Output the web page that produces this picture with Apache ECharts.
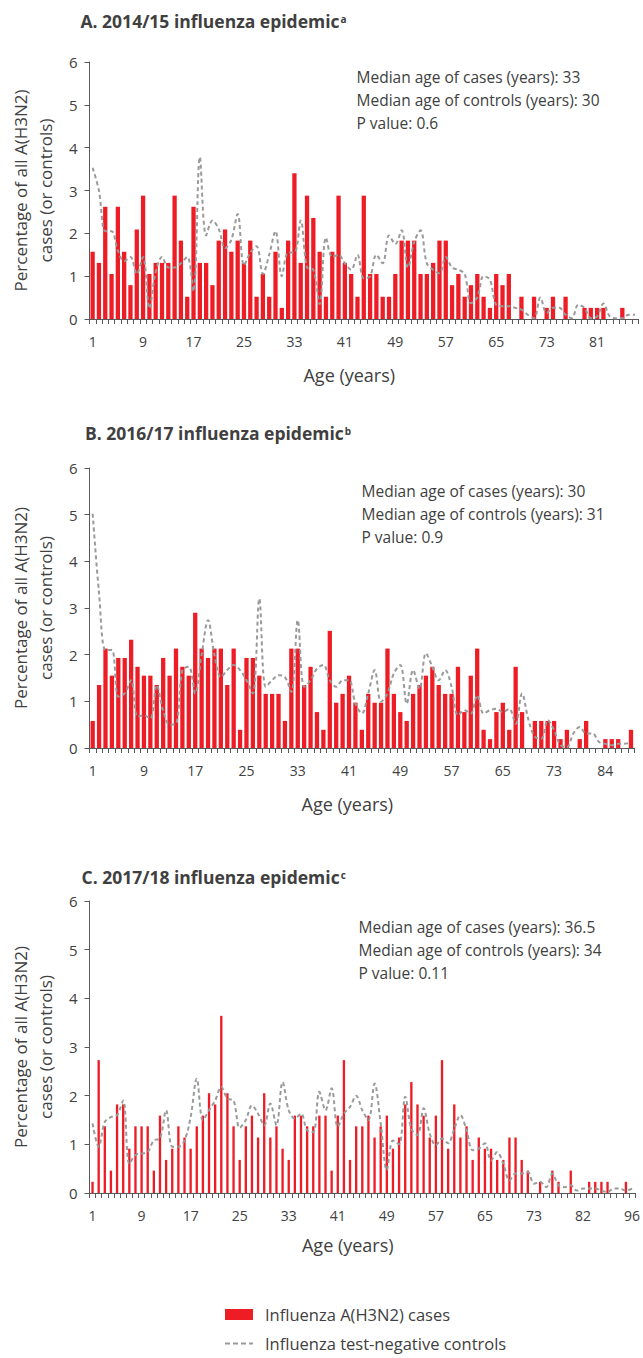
<!DOCTYPE html>
<html>
<head>
<meta charset="utf-8">
<script src="https://cdn.jsdelivr.net/npm/echarts@6/dist/echarts.min.js"></script>
<style>
html,body{margin:0;padding:0;background:#fff;}
#chart{width:643px;height:1358px;}
</style>
</head>
<body>
<div id="chart"></div>
<script>
// ---------- DATA ----------
const agesA = Array.from({length: 87}, (_, i) => String(i + 1));
const casesA = [1.57,1.31,2.62,1.05,2.62,1.57,0.79,2.09,2.88,1.05,
  1.31,1.31,1.31,2.88,1.83,0.52,2.62,1.31,1.31,0.79,
  1.83,2.09,1.57,1.83,1.31,1.83,0.52,1.05,0.52,1.57,
  0.26,1.83,3.40,1.31,2.88,2.36,1.57,0.52,1.57,2.88,
  1.31,1.05,0.52,2.88,1.05,1.05,0.52,0.52,1.05,1.83,
  1.83,1.83,1.05,1.05,1.31,1.83,1.83,0.79,1.05,0.52,
  0.79,1.05,0.52,0.26,1.05,0.79,1.05,0,0.52,0,
  0.52,0,0.26,0.52,0,0.52,0,0,0.26,0.26,
  0.26,0.26,0,0,0.26,0,0];
const controlsA = [3.53,3.0,2.05,2.05,1.6,1.35,1.45,1.05,1.45,0.25,
  1.1,1.45,1.2,1.2,1.3,1.45,0.65,3.78,1.95,2.3,
  2.1,1.65,1.85,2.45,1.25,1.55,1.7,1.05,1.5,2.05,
  1.0,1.55,1.55,2.3,1.2,1.15,0.35,1.9,1.45,1.5,
  1.3,1.15,1.5,0.95,1.0,1.5,1.3,1.95,1.75,2.07,
  1.2,1.8,2.07,1.3,1.15,1.07,1.45,1.2,1.15,1.05,
  0.37,0.5,1.0,0.92,0.33,0.3,0.3,0.26,0.22,0.1,
  0.02,0.5,0.14,0.26,0.26,0.1,0.02,0.33,0.26,0.02,
  0.06,0.36,0.06,0.02,0.02,0.1,0.1];

const agesB = Array.from({length: 73}, (_, i) => String(i + 1))
  .concat(['74','75','76','77','78','80','82','84','85','86','87','89']);
const casesB = [0.58,1.35,2.13,1.55,1.93,1.93,2.32,1.74,1.55,1.55,
  1.35,1.93,1.55,2.13,1.74,1.55,2.90,2.13,1.93,2.13,
  2.13,1.35,2.13,0.39,1.93,1.93,1.55,1.16,1.16,1.16,
  0.58,2.13,2.13,1.35,1.74,0.77,0.39,2.51,0.97,1.16,
  1.55,0.97,0.39,1.16,0.97,0.97,2.13,1.16,0.77,0.58,
  1.16,1.35,1.55,1.74,1.35,1.16,1.16,1.74,0.77,1.55,
  2.13,0.39,0.19,0.77,0.97,0.39,1.74,0.77,0,0.58,
  0.58,0.58,0.58,0.19,0.39,0,0.19,0.58,0,0,
  0.19,0.19,0.19,0,0.39];
const controlsB = [5.02,3.3,2.1,2.1,1.1,1.17,1.45,0.67,0.7,0.63,
  1.35,0.8,0.5,0.52,1.67,1.74,1.17,2.0,2.74,2.0,
  1.52,1.67,1.78,1.67,1.45,1.17,3.2,1.31,1.45,1.56,
  1.52,1.2,2.74,1.31,1.45,1.7,1.78,1.45,1.31,1.45,
  1.45,0.95,0.74,1.17,1.67,0.99,1.17,1.6,1.78,0.95,
  1.67,1.27,2.03,1.74,1.45,1.67,1.31,0.7,0.81,0.74,
  1.13,0.74,0.81,0.84,0.77,0.84,0.52,1.17,0.6,0.24,
  0.2,0.6,0.38,0.06,0.02,0.31,0.45,0.31,0.31,0.13,
  0.09,0.06,0.09,0.09,0.13];

const agesC = Array.from({length: 73}, (_, i) => String(i + 1))
  .concat(['74','75','76','77','78','79','81','82','83','84','85','86','88','90','93','96']);
const casesC = [0.23,2.73,1.37,0.46,1.82,1.82,0.91,1.37,1.37,1.37,
  0.46,1.59,0.68,0.91,1.37,1.14,0.91,1.37,1.59,2.05,
  1.82,3.64,2.05,1.37,0.68,1.37,1.59,1.14,2.05,1.14,
  1.37,0.91,0.68,1.59,1.59,1.37,1.37,1.59,1.59,0.46,
  1.59,2.73,0.68,1.37,1.37,1.59,1.14,1.37,1.59,0.91,
  1.14,1.82,2.28,1.82,1.59,1.14,1.59,2.73,0.91,1.82,
  1.14,1.37,0.68,1.14,0.91,0.91,0.68,0.68,1.14,1.14,
  0.68,0.46,0,0.23,0,0.46,0.23,0,0.46,0,
  0,0.23,0.23,0.23,0.23,0,0,0.23,0];
const controlsC = [1.43,0.95,1.46,1.56,1.6,1.9,0.6,0.78,0.81,0.84,
  1.08,1.12,1.7,0.95,0.95,1.08,1.56,2.35,1.5,1.7,
  1.9,2.18,1.94,1.9,1.34,1.5,1.8,1.63,1.39,1.84,
  1.39,2.28,1.7,1.53,1.63,1.29,1.25,2.08,1.7,2.15,
  1.36,1.63,1.77,2.0,1.7,1.5,2.25,1.43,0.47,1.08,
  1.0,1.98,1.32,1.19,1.74,1.22,0.98,1.12,1.02,1.32,
  1.6,1.29,0.88,0.91,1.02,0.67,0.84,0.6,0.26,0.4,
  0.4,0.43,0.19,0.23,0.12,0.4,0.16,0.12,0.16,0.05,
  0.09,0.09,0.09,0.05,0.02,0.09,0.09,0.05,0.09];

const panelTitles = ['A. 2014/15 influenza epidemic', 'B. 2016/17 influenza epidemic', 'C. 2017/18 influenza epidemic'];
const titleNotes = ['a', 'b', 'c'];
const statsA = ['Median age of cases (years): 33', 'Median age of controls (years): 30', 'P value: 0.6'];
const statsB = ['Median age of cases (years): 30', 'Median age of controls (years): 31', 'P value: 0.9'];
const statsC = ['Median age of cases (years): 36.5', 'Median age of controls (years): 34', 'P value: 0.11'];
const yTitle = 'Percentage of all A(H3N2)\ncases (or controls)';
const xTitle = 'Age (years)';
const caseName = 'Influenza A(H3N2) cases';
const ctrlName = 'Influenza test-negative controls';

// ---------- LAYOUT ----------
const FONT = '"Open Sans", "Noto Sans", sans-serif';
const TXT = '#404040';
const AX = '#595959';
const RED = '#ee1c25';
const GREY = '#9a9a9a';

const panels = [
  {ages: agesA, cases: casesA, ctrls: controlsA, stats: statsA,
   grid: {left: 82.8, right: 4.9, top: 62, height: 257}, gap: '32%', yGap: 27,
   titleTop: 5, titleLeft: 75.5, statsLeft: 351.5, statsTop: 60.5},
  {ages: agesB, cases: casesB, ctrls: controlsB, stats: statsB,
   grid: {left: 86.1, right: 8.8, top: 468, height: 280}, gap: '33%', yGap: 28.5,
   titleTop: 417, titleLeft: 80, statsLeft: 356.5, statsTop: 474.5},
  {ages: agesC, cases: casesC, ctrls: controlsC, stats: statsC,
   grid: {left: 81.2, right: 4.9, top: 901, height: 292}, gap: '62%', yGap: 26,
   titleTop: 861, titleLeft: 76.5, statsLeft: 353.5, statsTop: 910.5}
];
const xNameGap = [47, 47, 43];

const dashIcon = 'path://M0,0H5V2H0Z M8,0H13V2H8Z M16,0H21V2H16Z M24,0H28V2H24Z';

const option = {
  animation: false,
  backgroundColor: '#fff',
  textStyle: {fontFamily: FONT},
  title: [],
  grid: [],
  xAxis: [],
  yAxis: [],
  series: [],
  legend: [
    {
      left: 220, top: 1301,
      itemWidth: 28, itemHeight: 11,
      textStyle: {fontFamily: FONT, fontSize: 16.5, color: TXT, padding: [0, 0, 0, 7]},
      data: [{name: caseName, icon: 'rect'}]
    },
    {
      left: 220, top: 1330,
      itemWidth: 28, itemHeight: 2,
      textStyle: {fontFamily: FONT, fontSize: 16.5, color: TXT, padding: [0, 0, 0, 7]},
      data: [{name: ctrlName, icon: dashIcon, itemStyle: {color: GREY}}]
    }
  ]
};

panels.forEach((p, i) => {
  option.title.push({
    left: p.titleLeft, top: p.titleTop,
    text: '{t|' + panelTitles[i] + '}{s|' + titleNotes[i] + '}',
    textStyle: {
      rich: {
        t: {fontFamily: FONT, fontSize: 17.5, fontWeight: 'bold', color: TXT, lineHeight: 22},
        s: {fontFamily: FONT, fontSize: 10, fontWeight: 'bold', color: TXT, verticalAlign: 'top', lineHeight: 22, padding: [4, 0, 0, 1]}
      }
    }
  });
  option.title.push({
    left: p.statsLeft, top: p.statsTop,
    text: p.stats.join('\n'),
    textStyle: {fontFamily: FONT, fontSize: 15.5, fontWeight: 'normal', color: TXT, lineHeight: 23}
  });
  option.grid.push(Object.assign({containLabel: false}, p.grid));
  option.xAxis.push({
    type: 'category', gridIndex: i, data: p.ages,
    boundaryGap: true,
    name: xTitle, nameLocation: 'middle', nameGap: xNameGap[i],
    nameTextStyle: {fontFamily: FONT, fontSize: 18, color: TXT, padding: [0, 29, 0, 0]},
    axisLine: {lineStyle: {color: AX, width: 1}},
    axisTick: {show: true, interval: 0, length: 5, lineStyle: {color: AX}},
    axisLabel: {interval: 7, margin: 15, fontFamily: FONT, fontSize: 14, color: TXT}
  });
  option.yAxis.push({
    type: 'value', gridIndex: i, min: 0, max: 6, interval: 1,
    name: yTitle, nameLocation: 'middle', nameGap: p.yGap, nameRotate: 90,
    nameTextStyle: {fontFamily: FONT, fontSize: 17, color: TXT, lineHeight: 25},
    axisLine: {show: true, lineStyle: {color: AX, width: 1}},
    axisTick: {show: true, length: 5, lineStyle: {color: AX}},
    splitLine: {show: false},
    axisLabel: {margin: 12, fontFamily: FONT, fontSize: 15, color: TXT}
  });
  option.series.push({
    name: caseName, type: 'bar', xAxisIndex: i, yAxisIndex: i,
    data: p.cases, barCategoryGap: p.gap,
    itemStyle: {color: RED}, z: 2
  });
  option.series.push({
    name: ctrlName, type: 'line', xAxisIndex: i, yAxisIndex: i,
    data: p.ctrls, smooth: 0.35, symbol: 'none', showSymbol: false,
    itemStyle: {color: GREY},
    lineStyle: {color: GREY, width: 2, type: [4, 3]}, z: 3
  });
});

const chart = echarts.init(document.getElementById('chart'), null, {renderer: 'svg'});
chart.setOption(option);
</script>
</body>
</html>
